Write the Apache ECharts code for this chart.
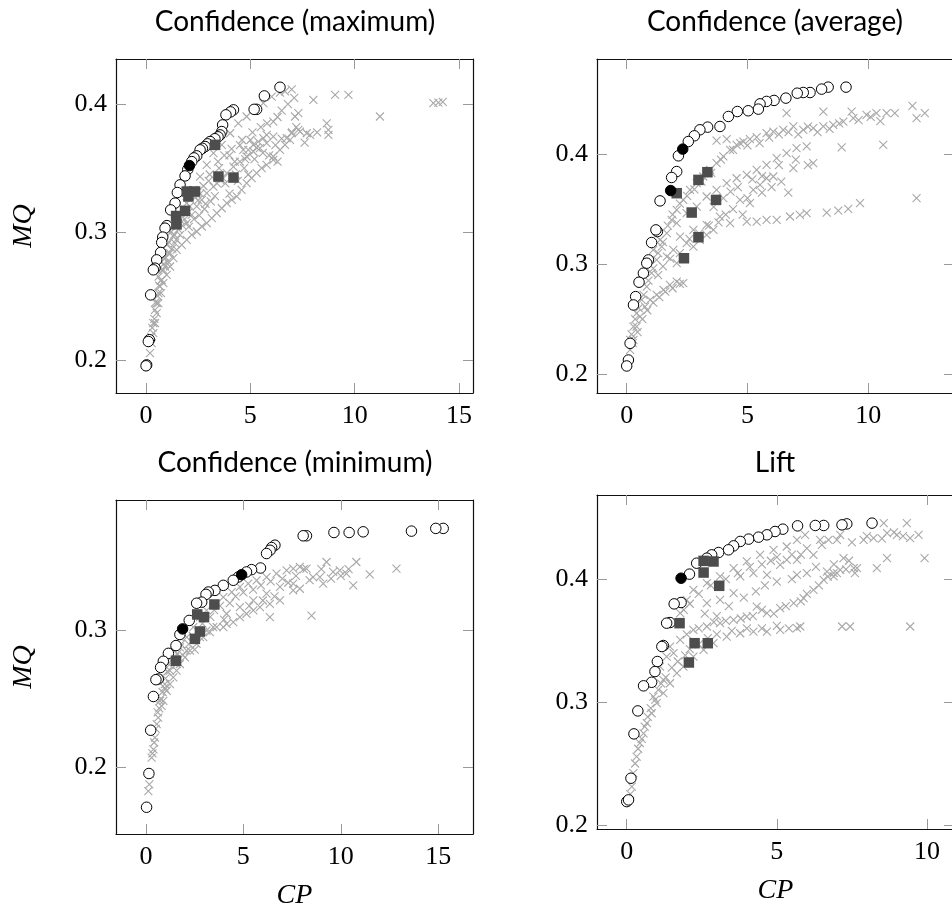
<!DOCTYPE html>
<html>
<head>
<meta charset="utf-8">
<script src="https://cdn.jsdelivr.net/npm/echarts@6/dist/echarts.min.js"></script>
<style>html,body{margin:0;padding:0;background:#fff}#c{width:952px;height:911px}</style>
</head>
<body>
<div id="c"></div>
<script>
// ---------- tick labels ----------
const xTicksA = [0, 5, 10, 15];
const xTicksB = [0, 5, 10];
const yTicksA = [0.2, 0.3, 0.4];
const yTicksC = [0.2, 0.3];
const titles = ['Confidence (maximum)', 'Confidence (average)', 'Confidence (minimum)', 'Lift'];

// ---------- Panel 1: Confidence (maximum) ----------
const cross1 = [[6.98,0.4117],[6.66,0.41],[8.02,0.4034],[9.06,0.4073],[9.70,0.4073],[11.21,0.3904],[13.77,0.4008],[14.01,0.4013],[14.22,0.4018],[6.10,0.3864],[7.14,0.3904],[7.30,0.393],[8.66,0.3851],[8.74,0.3799],[8.74,0.376],[7.38,0.3786],[7.70,0.3773],[7.86,0.376],[6.98,0.3773],[6.74,0.3734],[6.10,0.3747],[5.78,0.376],[5.62,0.3734],[5.38,0.3708],[5.14,0.3682],[4.90,0.3643],[4.66,0.3643],[6.10,0.3565],
[0.19,0.2052],[0.27,0.213],[0.35,0.2209],[0.43,0.2287],[0.51,0.2365],[0.59,0.2443],[0.72,0.2522],[0.83,0.26],[0.99,0.2665],[1.15,0.273],[1.31,0.2795],[1.47,0.2861],[1.71,0.29],[1.95,0.2939],[2.19,0.2978],[2.43,0.3004],[2.67,0.3043],[2.91,0.3069],[3.15,0.3108],[3.39,0.3147],[3.63,0.3186],[3.87,0.3226],[4.11,0.3252],[4.35,0.3278],[4.58,0.333],[4.82,0.3382],[5.06,0.3421],[5.30,0.346],[5.54,0.35],[5.78,0.3525],[6.10,0.3591],[6.42,0.3643],[6.66,0.3682],[6.90,0.3721],
[0.43,0.2391],[0.59,0.2522],[0.75,0.2626],[0.91,0.273],[1.15,0.2834],[1.39,0.2913],[1.63,0.2978],[1.95,0.3069],[2.19,0.3134],[2.43,0.32],[2.67,0.3252],[2.91,0.3304],[3.23,0.3356],[3.55,0.3408],[3.87,0.346],[4.19,0.3512],[4.50,0.3551],[4.82,0.3591],[5.14,0.363],[5.46,0.3656],[5.78,0.3695],
[0.35,0.2287],[0.51,0.2443],[0.67,0.2574],[0.83,0.2704],[1.07,0.2834],[1.31,0.2965],[1.63,0.3095],[1.95,0.3226],[2.27,0.333],[2.59,0.3434],[2.91,0.3525],[3.23,0.3617],[3.63,0.3682],[4.03,0.3773],[4.42,0.3851],[4.82,0.3904],[5.22,0.3956],[5.62,0.4008],[6.02,0.406],[6.42,0.4091],
[1.0,0.29],[1.2,0.3],[1.5,0.305],[2.0,0.315],[2.5,0.325],[3.0,0.34],[3.5,0.35],[4.0,0.36],[4.5,0.368],[5.0,0.372],[0.6,0.265],[0.8,0.28],[2.8,0.318],[3.3,0.328],[3.8,0.338],[4.3,0.345],[4.7,0.35],[5.2,0.357],[5.6,0.362],[6.2,0.368],[6.5,0.373],[7.0,0.378],[7.2,0.382],
[0.25,0.218],[0.3,0.225],[0.4,0.232],[0.45,0.245],[0.55,0.25],[0.62,0.258],[0.7,0.262],[0.78,0.27],[0.85,0.275],[0.95,0.28],[1.05,0.277],[1.1,0.292],[1.25,0.287],[1.35,0.298],[1.45,0.294],[1.55,0.302],[1.75,0.305],[1.85,0.31],[2.05,0.304],[2.1,0.32],[2.3,0.31],[2.35,0.327],[2.55,0.313],[2.6,0.33],[2.75,0.336],[2.85,0.322],[3.05,0.345],[3.1,0.324],[3.4,0.338],[3.45,0.355],[3.7,0.342],[3.75,0.36],[4.0,0.33],[4.1,0.365],[4.25,0.355],[4.4,0.34],[4.6,0.372],[4.75,0.357],[4.9,0.345],[5.1,0.378],[5.3,0.366],[5.5,0.382],[5.8,0.385],[6.3,0.39],[6.5,0.395],[6.8,0.4],[7.1,0.405],[7.3,0.38],[7.6,0.37],[8.2,0.378],[5.9,0.36],[6.3,0.355]];
const circ1 = [[6.42,0.4133],[5.67,0.4065],[5.30,0.396],[5.18,0.396],[4.19,0.3956],[4.05,0.394],[3.83,0.3917],[3.67,0.3838],[3.63,0.3786],[3.55,0.376],[3.45,0.3745],[3.30,0.373],[3.07,0.3708],[2.95,0.369],[2.83,0.3669],[2.70,0.3655],[2.59,0.3643],[2.43,0.3596],[2.30,0.358],[2.19,0.3551],[2.0,0.349],[1.87,0.3439],[1.63,0.3369],[1.50,0.3309],[1.39,0.3226],[1.18,0.3173],[1.0,0.305],[0.91,0.303],[0.80,0.296],[0.75,0.2918],[0.70,0.284],[0.51,0.2782],[0.43,0.2717],[0.35,0.2704],[0.22,0.2508],[0.16,0.2157],[0.11,0.2143],[0.03,0.196],[0.0,0.1953]];
const filled1 = [[2.08,0.352]];
const square1 = [[3.31,0.3682],[3.47,0.3434],[4.19,0.3426],[1.95,0.3317],[2.35,0.3317],[2.03,0.3278],[1.87,0.3166],[1.44,0.3125],[1.46,0.3060]];

// ---------- Panel 2: Confidence (average) ----------
const cross2 = [[0.14,0.2310],[0.28,0.2431],[0.41,0.2552],[0.62,0.2674],[0.83,0.2795],[1.03,0.2917],[1.24,0.3038],[1.45,0.3159],[1.66,0.3281],[1.86,0.3402],[2.07,0.3493],[2.34,0.3584],[2.62,0.3675],[2.90,0.3736],[3.17,0.3797],[3.45,0.3857],[3.72,0.3918],[4.00,0.3979],[4.28,0.4039],[4.55,0.4085],[4.83,0.4115],[5.10,0.4137],[5.38,0.4155],[5.79,0.4191],[6.07,0.4206],[6.48,0.4222],[6.90,0.4252],[7.31,0.4222],[7.72,0.4237],[8.14,0.4252],[8.55,0.4267],[8.97,0.4297],[9.38,0.4328],[9.93,0.4358],[10.34,0.4373],[10.76,0.4373],[11.10,0.4373],[11.83,0.444],[12.00,0.4328],[12.34,0.4373],[6.62,0.4373],[8.14,0.4388],[9.31,0.4388],[3.72,0.4124],[4.14,0.4137],
[2.07,0.3372],[2.48,0.3463],[2.90,0.3523],[3.31,0.3615],[3.72,0.3675],[4.14,0.3736],[4.55,0.3781],[4.97,0.3812],[5.38,0.3857],[5.79,0.3903],[6.21,0.3964],[6.62,0.4009],[7.03,0.4055],[7.45,0.407],[7.72,0.3918],[6.90,0.3873],[8.90,0.4061],[10.62,0.4085],[5.79,0.3781],[6.07,0.3797],
[2.21,0.325],[2.76,0.3311],[3.31,0.3357],[3.86,0.3432],[4.28,0.3372],[4.69,0.3584],[5.10,0.3554],[5.24,0.3675],[5.52,0.3721],[4.97,0.3387],[5.38,0.3387],[5.79,0.3402],[6.21,0.3402],[6.76,0.3433],[7.17,0.3448],[7.45,0.3463],[8.28,0.3469],[8.76,0.3487],[9.17,0.3502],[9.66,0.3554],[6.69,0.3651],[12.00,0.36],
[0.14,0.2219],[0.28,0.231],[0.41,0.2431],[0.55,0.2522],[0.76,0.2613],[0.97,0.2674],[1.24,0.2719],[1.52,0.2765],[1.79,0.281],[2.07,0.2841],[2.34,0.2826],
[1.10,0.3129],[1.38,0.322],[1.66,0.3068],[1.93,0.3129],[2.07,0.3008],[2.48,0.319],[2.76,0.3159],[3.03,0.322],[3.31,0.3266],[3.59,0.3311],
[0.2,0.236],[0.35,0.25],[0.5,0.26],[0.7,0.272],[0.9,0.285],[1.1,0.296],[1.3,0.31],[1.5,0.32],[1.7,0.335],[1.9,0.345],[2.2,0.355],[2.5,0.362],[2.8,0.368],[3.1,0.375],[3.5,0.383],[3.9,0.395],[4.4,0.404],[4.7,0.41],[5.0,0.408],[5.5,0.41],[5.9,0.415],[6.3,0.418],[6.7,0.42],[7.1,0.418],[7.5,0.425],[7.9,0.42],[8.4,0.423],[8.8,0.428],[9.6,0.431],[10.1,0.434],[10.5,0.43],
[0.25,0.228],[0.45,0.238],[0.65,0.25],[0.85,0.258],[1.1,0.265],[1.35,0.27],[1.6,0.275],[1.9,0.278],[2.2,0.282],
[1.3,0.29],[1.5,0.298],[1.8,0.305],[2.2,0.31],[2.6,0.323],[3.0,0.328],[3.4,0.335],[3.8,0.338],[4.1,0.345],[4.4,0.35],[4.8,0.345],[5.0,0.36],[5.6,0.365],[6.0,0.37],[6.4,0.375],[3.6,0.352],[4.0,0.36],[4.3,0.366],[4.6,0.37],[5.2,0.377],[5.6,0.38],[6.3,0.39],[7.0,0.395],[7.5,0.39]];
const circ2 = [[9.08,0.461],[8.34,0.461],[8.07,0.4592],[7.59,0.4561],[7.31,0.4561],[7.06,0.4555],[6.59,0.451],[6.10,0.4489],[5.79,0.448],[5.52,0.4458],[5.45,0.441],[5.03,0.4395],[4.58,0.4388],[4.21,0.4343],[3.86,0.4252],[3.35,0.4246],[3.03,0.4222],[2.80,0.4167],[2.55,0.4115],[2.14,0.3985],[2.07,0.3842],[1.86,0.3788],[1.38,0.3575],[1.27,0.3296],[1.21,0.3311],[1.03,0.3196],[0.90,0.3038],[0.83,0.3008],[0.69,0.2917],[0.51,0.2835],[0.37,0.2704],[0.28,0.2628],[0.14,0.2279],[0.07,0.2127],[0.0,0.2073]];
const filled2 = [[2.32,0.4046],[1.82,0.3669]];
const square2 = [[3.34,0.3836],[2.97,0.3766],[3.70,0.3584],[2.07,0.3645],[2.69,0.3469],[2.97,0.3244],[2.37,0.3053]];

// ---------- Panel 3: Confidence (minimum) ----------
const cross3 = [[0.12,0.1824],[0.17,0.1873],[0.29,0.2069],[0.38,0.213],[0.46,0.2216],[0.55,0.2314],[0.63,0.2363],[0.80,0.2449],[0.89,0.2485],[1.06,0.2559],[1.23,0.2608],[1.40,0.2657],[1.57,0.2706],[1.74,0.2755],[2.00,0.2804],[2.26,0.2853],[2.60,0.2902],[2.94,0.2951],[3.28,0.2988],[3.63,0.3025],[3.97,0.3025],[4.14,0.3049],[4.48,0.3061],[4.82,0.3098],[5.16,0.3123],[5.51,0.3147],[5.85,0.3172],[6.36,0.3196],[6.36,0.3098],[6.88,0.3221],[7.56,0.3294],[7.90,0.3306],[8.50,0.311],
[0.72,0.2485],[0.97,0.2608],[1.23,0.2706],[1.49,0.2804],[1.74,0.2877],[2.09,0.2951],[2.43,0.3025],[2.77,0.3098],[3.11,0.3147],[3.54,0.3196],[3.97,0.3245],[4.40,0.3282],[4.82,0.3319],[5.25,0.3343],[5.68,0.3368],[6.19,0.3392],[6.70,0.3417],[7.22,0.3441],[7.56,0.3453],[7.90,0.3466],[8.24,0.3453],[8.58,0.3392],[8.93,0.3392],[9.27,0.3502],[9.61,0.3429],[9.95,0.3441],[10.29,0.3417],[10.64,0.3331],[10.80,0.3502],[11.49,0.3412],[12.86,0.3453],[9.10,0.3343],
[1.57,0.2755],[2.09,0.2853],[2.77,0.2951],[3.45,0.3025],[4.14,0.3123],[4.82,0.3172],[5.51,0.3221],[6.19,0.327],[6.88,0.3319],[7.56,0.3343],
[0.2,0.195],[0.33,0.21],[0.42,0.218],[0.5,0.228],[0.6,0.24],[0.68,0.243],[0.75,0.25],[0.85,0.255],[0.95,0.258],[1.0,0.265],[1.1,0.27],[1.2,0.275],[1.3,0.278],[1.45,0.285],[1.6,0.283],[1.8,0.29],[1.9,0.282],[2.2,0.29],[2.4,0.296],[2.5,0.286],[2.7,0.3],[2.9,0.305],[3.1,0.3],[3.3,0.31],[3.5,0.315],[3.8,0.318],[4.0,0.308],[4.3,0.32],[4.6,0.325],[5.0,0.328],[5.3,0.318],[5.5,0.33],[5.9,0.333],[6.0,0.322],[6.4,0.336],[6.6,0.325],[7.0,0.338],[7.3,0.335],[7.7,0.34],[8.1,0.345],[8.4,0.337],[9.0,0.345],[9.5,0.338],[10.0,0.34],[10.4,0.345]];
const circ3 = [[15.26,0.3748],[14.88,0.3748],[13.63,0.3728],[11.15,0.3723],[10.43,0.3718],[9.65,0.3718],[8.24,0.3694],[8.07,0.3694],[6.62,0.3625],[6.45,0.3608],[6.37,0.3588],[6.19,0.3564],[5.88,0.3458],[5.42,0.3446],[5.16,0.3429],[4.74,0.3392],[4.48,0.3368],[3.97,0.3331],[3.54,0.3294],[3.20,0.3282],[3.08,0.3265],[2.86,0.3208],[2.60,0.32],[2.22,0.3074],[1.74,0.2971],[1.54,0.289],[1.15,0.2833],[0.89,0.2775],[0.75,0.273],[0.63,0.2645],[0.51,0.264],[0.38,0.2517],[0.24,0.227],[0.15,0.1953],[0.03,0.1706]];
const filled3 = [[4.91,0.3409],[1.88,0.3012]];
const square3 = [[3.51,0.3191],[2.63,0.3118],[2.98,0.3098],[2.77,0.2993],[2.51,0.2939],[1.54,0.2779]];

// ---------- Panel 4: Lift ----------
const cross4 = [[0.17,0.2312],[0.22,0.2421],[0.33,0.2556],[0.44,0.2665],[0.56,0.2746],[0.67,0.2828],[0.83,0.2909],[1.00,0.2992],[1.22,0.3072],[1.44,0.3153],[1.67,0.3235],[1.89,0.3289],[2.22,0.337],[2.56,0.3425],[2.89,0.3479],[3.33,0.3533],[3.78,0.356],[4.22,0.3574],[4.67,0.3574],[5.11,0.3588],[5.67,0.3601],[5.78,0.3615],[7.17,0.3615],[7.44,0.3615],[9.44,0.3615],
[1.78,0.3723],[2.00,0.3832],[2.22,0.3913],[2.67,0.3967],[3.11,0.4022],[3.56,0.409],[4.00,0.4144],[4.44,0.4198],[4.89,0.4239],[5.33,0.4266],[5.67,0.432],[5.94,0.4361],[6.44,0.432],[6.72,0.432],[7.11,0.4361],[7.89,0.432],[8.22,0.4334],[8.56,0.4456],[8.67,0.4374],[9.00,0.4361],[9.33,0.4456],[9.44,0.4334],[9.72,0.4361],[9.92,0.4171],
[2.67,0.3805],[3.11,0.3832],[3.56,0.3886],[3.78,0.4022],[4.22,0.4049],[4.67,0.4035],[5.11,0.4117],[5.33,0.4157],[5.67,0.4157],[5.67,0.4035],[6.22,0.4198],[6.67,0.4062],[6.89,0.4049],[7.22,0.4171],[7.11,0.4076],[7.56,0.409],[7.67,0.409],[8.33,0.409],[8.67,0.4171],
[1.44,0.3452],[1.78,0.3506],[2.22,0.3588],[2.67,0.3615],[3.11,0.3642],[3.56,0.3669],[4.00,0.3696],[4.33,0.3777],[4.67,0.3723],[5.11,0.3764],[5.56,0.3805],[5.89,0.3845],[6.22,0.3913],[6.56,0.3995],[6.89,0.4022],
[1.11,0.3289],[1.33,0.337],[1.56,0.3398],[1.22,0.318],[0.89,0.3045],
[0.12,0.225],[0.28,0.25],[0.38,0.262],[0.5,0.27],[0.6,0.28],[0.7,0.288],[0.8,0.295],[0.95,0.302],[1.05,0.31],[1.15,0.315],[1.3,0.32],[1.5,0.328],[1.7,0.333],[1.95,0.338],[2.1,0.343],[2.4,0.347],[2.7,0.352],[3.0,0.355],[3.5,0.358],[4.0,0.36],[4.5,0.36],[5.0,0.362],[5.4,0.36],
[2.0,0.355],[2.4,0.36],[2.9,0.365],[3.3,0.366],[3.8,0.368],[4.2,0.37],[4.5,0.375],[4.9,0.372],[5.3,0.378],[5.8,0.382],[6.0,0.388],[6.4,0.395],[6.7,0.402],[7.0,0.405],[7.3,0.408],[7.6,0.405],
[1.6,0.365],[1.9,0.375],[2.1,0.38],[2.4,0.388],[2.8,0.395],[3.3,0.4],[3.7,0.405],[4.1,0.41],[4.5,0.412],[4.8,0.415],[5.0,0.418],[5.5,0.42],[5.8,0.42],[6.0,0.425],[6.5,0.428],[7.0,0.432],[7.5,0.43],[8.0,0.435],[8.5,0.433],[8.9,0.438],[9.2,0.435],
[2.6,0.372],[3.0,0.37],[3.4,0.378],[3.9,0.385],[4.3,0.39],[4.6,0.395],[5.0,0.398],[5.5,0.4],[6.0,0.405],[6.3,0.41],[6.9,0.412],[7.4,0.415]];
const circ4 = [[8.17,0.4456],[7.33,0.445],[7.17,0.4442],[6.56,0.4437],[6.28,0.4437],[5.69,0.4434],[5.20,0.4407],[4.94,0.4388],[4.67,0.4361],[4.39,0.4342],[4.06,0.4326],[3.78,0.4307],[3.56,0.4271],[3.39,0.4239],[3.06,0.4217],[2.83,0.4198],[2.67,0.4171],[2.33,0.413],[2.09,0.4041],[1.81,0.381],[1.58,0.3799],[1.44,0.3647],[1.33,0.3642],[1.22,0.346],[1.17,0.3452],[1.02,0.333],[0.94,0.3248],[0.83,0.3161],[0.56,0.3132],[0.37,0.2928],[0.24,0.2741],[0.14,0.238],[0.0,0.219],[0.06,0.2204]];
const filled4 = [[1.81,0.4008]];
const square4 = [[2.56,0.4149],[2.89,0.4144],[2.56,0.4054],[3.08,0.3946],[1.76,0.3642],[2.26,0.3479],[2.70,0.3479],[2.07,0.3322]];

// ---------- layout ----------
const panels = [
  {grid:{left:116, top:59, width:357, height:334}, xr:[-1.44,15.67], yr:[0.174,0.4354], xt:xTicksA, yt:yTicksA, cross:cross1, circ:circ1, fill:filled1, sq:square1, title:titles[0], tx:295, ty:22, yName:true, xName:false},
  {grid:{left:597, top:59, width:357, height:334}, xr:[-1.23,13.55], yr:[0.1827,0.4866], xt:xTicksB, yt:yTicksA, cross:cross2, circ:circ2, fill:filled2, sq:square2, title:titles[1], tx:775, ty:22, yName:false, xName:false},
  {grid:{left:116, top:500, width:357, height:334}, xr:[-1.54,16.79], yr:[0.151,0.3956], xt:xTicksA, yt:yTicksC, cross:cross3, circ:circ3, fill:filled3, sq:square3, title:titles[2], tx:295, ty:463, yName:true, xName:true},
  {grid:{left:597, top:495, width:357, height:334}, xr:[-0.99,10.9], yr:[0.1967,0.4685], xt:xTicksB, yt:yTicksA, cross:cross4, circ:circ4, fill:filled4, sq:square4, title:titles[3], tx:775, ty:463, yName:false, xName:true}
];

const serif = 'Liberation Serif';
const tickLine = {color:'#9a9a9a', width:1};
const frameLine = {color:'#111', width:1.2};

const grids = [], xAxes = [], yAxes = [], series = [], graphics = [];
panels.forEach((p, i) => {
  grids.push(Object.assign({outerBoundsMode:'none', containLabel:false}, p.grid));
  const xBase = {type:'value', gridIndex:i, min:p.xr[0], max:p.xr[1], splitLine:{show:false},
    axisLine:{show:true, onZero:false, lineStyle:frameLine},
    axisTick:{show:true, inside:true, length:10, customValues:p.xt, lineStyle:tickLine}};
  xAxes.push(Object.assign({}, xBase, {position:'bottom',
    axisLabel:{show:true, customValues:p.xt, margin:10, fontFamily:serif, fontSize:26, color:'#000'},
    name: p.xName ? 'CP' : '', nameLocation:'middle', nameGap:48,
    nameTextStyle:{fontFamily:serif, fontStyle:'italic', fontSize:28, color:'#000'}}));
  xAxes.push(Object.assign({}, xBase, {position:'top', axisLabel:{show:false}}));
  const yBase = {type:'value', gridIndex:i, min:p.yr[0], max:p.yr[1], splitLine:{show:false},
    axisLine:{show:true, onZero:false, lineStyle:frameLine},
    axisTick:{show:true, inside:true, length:10, customValues:p.yt, lineStyle:tickLine}};
  yAxes.push(Object.assign({}, yBase, {position:'left',
    axisLabel:{show:true, customValues:p.yt, margin:9, fontFamily:serif, fontSize:26, color:'#000', formatter:v => v.toFixed(1)},
    name: p.yName ? 'MQ' : '', nameLocation:'middle', nameGap:78, nameRotate:90,
    nameTextStyle:{fontFamily:serif, fontStyle:'italic', fontSize:28, color:'#000'}}));
  yAxes.push(Object.assign({}, yBase, {position:'right', axisLabel:{show:false}}));
  const xi = i*2, yi = i*2;
  series.push({type:'scatter', xAxisIndex:xi, yAxisIndex:yi, data:p.cross, symbol:'path://M0,0L10,10M10,0L0,10', symbolSize:8,
    itemStyle:{color:'rgba(0,0,0,0)', borderColor:'#a8a8a8', borderWidth:1.1, opacity:1}, z:2});
  series.push({type:'scatter', xAxisIndex:xi, yAxisIndex:yi, data:p.circ, symbol:'circle', symbolSize:10.5,
    itemStyle:{color:'#fff', borderColor:'#000', borderWidth:1, opacity:1}, z:3});
  series.push({type:'scatter', xAxisIndex:xi, yAxisIndex:yi, data:p.sq, symbol:'rect', symbolSize:10.5,
    itemStyle:{color:'#4d4d4d', opacity:1}, z:4});
  series.push({type:'scatter', xAxisIndex:xi, yAxisIndex:yi, data:p.fill, symbol:'circle', symbolSize:10.5,
    itemStyle:{color:'#000', borderColor:'#000', borderWidth:1, opacity:1}, z:5});
  graphics.push({type:'text', x:p.tx, y:p.ty, style:{text:p.title, font:'28px Lato', fill:'#000', textAlign:'center', textVerticalAlign:'middle'}});
});

const chart = echarts.init(document.getElementById('c'), null, {renderer:'canvas'});
chart.setOption({
  animation:false,
  backgroundColor:'#fff',
  grid:grids, xAxis:xAxes, yAxis:yAxes, series:series, graphic:graphics
});
</script>
</body>
</html>
